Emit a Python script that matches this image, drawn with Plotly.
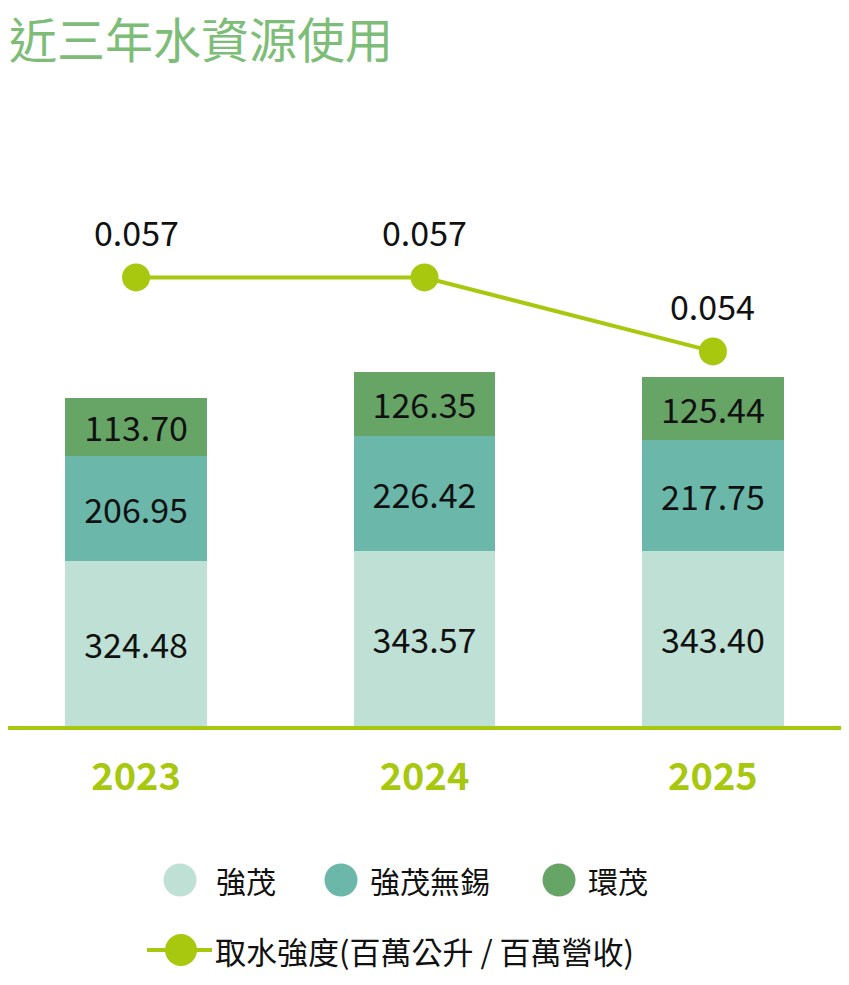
import plotly.graph_objects as go

# data
years = ["2023", "2024", "2025"]
qiangmao = [324.48, 343.57, 343.40]
qiangmao_wuxi = [206.95, 226.42, 217.75]
huanmao = [113.70, 126.35, 125.44]
intensity = [0.057, 0.057, 0.054]

series_names = ["強茂", "強茂無錫", "環茂"]
line_name = "取水強度(百萬公升 / 百萬營收)"
title_text = "近三年水資源使用"

colors = ["#bfe0d5", "#6bb8ab", "#67a567"]
line_color = "#a8c80f"
font_family = "Noto Sans CJK TC"

W, H = 849, 985
OFF = 8  # page body margin
# plot area on screen: x 8..841, y 100..726
ML, MR = 8 - OFF, W - 841 + OFF
MT, MB = 100 - OFF, H - (726 - OFF)


def px_to_paper(x, y):
    # screen pixel position -> paper coords
    x, y = x - OFF, y - OFF
    return (x - ML) / (W - ML - MR), (H - MB - y) / (H - MT - MB)


fig = go.Figure()

for vals, name, col in zip([qiangmao, qiangmao_wuxi, huanmao], series_names, colors):
    fig.add_trace(go.Bar(
        x=years, y=vals, name=name,
        marker=dict(color=col, line=dict(width=0)),
        width=0.49,
        text=[f"{v:.2f}" for v in vals],
        textposition="inside",
        insidetextanchor="middle",
        textangle=0,
        constraintext="none",
        textfont=dict(family=font_family, size=34, color="#111111"),
        showlegend=False,
    ))

fig.add_trace(go.Scatter(
    x=years, y=intensity, name=line_name, yaxis="y2",
    mode="lines+markers",
    line=dict(color=line_color, width=4),
    marker=dict(color=line_color, size=28),
    showlegend=False,
))

shapes = []
annotations = []

# value labels above the line markers (category index on x)
for i, v in enumerate(intensity):
    annotations.append(dict(text=f"{v:.3f}", x=i, y=v, xref="x", yref="y2",
                            yshift=46, showarrow=False,
                            font=dict(family=font_family, size=34, color="#111111")))

# legend row 1
legend_row1 = [(180, 214), (341, 368), (559, 586)]
for (cx, tx), name, col in zip(legend_row1, series_names, colors):
    x0, y0 = px_to_paper(cx - 16.5, 880 - 16.5)
    x1, y1 = px_to_paper(cx + 16.5, 880 + 16.5)
    shapes.append(dict(type="circle", xref="paper", yref="paper",
                       x0=x0, y0=y0, x1=x1, y1=y1,
                       fillcolor=col, line=dict(width=0)))
    ax, ay = px_to_paper(tx, 880)
    annotations.append(dict(text=name, x=ax, y=ay, xref="paper", yref="paper",
                            xanchor="left", yanchor="middle", showarrow=False,
                            font=dict(family=font_family, size=30, color="#111111")))

# legend row 2 (line)
lx0, ly = px_to_paper(147, 950)
lx1, _ = px_to_paper(212, 950)
shapes.append(dict(type="line", xref="paper", yref="paper",
                   x0=lx0, y0=ly, x1=lx1, y1=ly,
                   line=dict(color=line_color, width=4)))
x0, y0 = px_to_paper(181 - 16, 950 - 16)
x1, y1 = px_to_paper(181 + 16, 950 + 16)
shapes.append(dict(type="circle", xref="paper", yref="paper",
                   x0=x0, y0=y0, x1=x1, y1=y1,
                   fillcolor=line_color, line=dict(width=0)))
ax, ay = px_to_paper(213, 950)
annotations.append(dict(text=line_name, x=ax, y=ay, xref="paper", yref="paper",
                        xanchor="left", yanchor="middle", showarrow=False,
                        font=dict(family=font_family, size=31, color="#111111")))

fig.update_layout(
    width=W, height=H,
    margin=dict(l=ML, r=MR, t=MT, b=MB),
    barmode="stack",
    plot_bgcolor="white",
    paper_bgcolor="white",
    font=dict(family=font_family),
    title=dict(
        text=title_text,
        xref="container", yref="container",
        x=(9 - OFF) / W, xanchor="left",
        y=1 - (41 - OFF) / H, yanchor="middle",
        font=dict(family=font_family, size=48, color="#7dbd78"),
    ),
    xaxis=dict(
        range=[-0.444, 2.444],
        showline=True, linecolor=line_color, linewidth=4,
        showgrid=False, zeroline=False, ticks="",
        ticklabelstandoff=14,
        tickfont=dict(family=font_family, size=38, color=line_color, weight="bold"),
    ),
    yaxis=dict(range=[0, 1230], visible=False, showgrid=False),
    yaxis2=dict(range=[0.0388, 0.0642], overlaying="y", visible=False, showgrid=False),
    shapes=shapes,
    annotations=annotations,
)

fig.write_html("out.html")
